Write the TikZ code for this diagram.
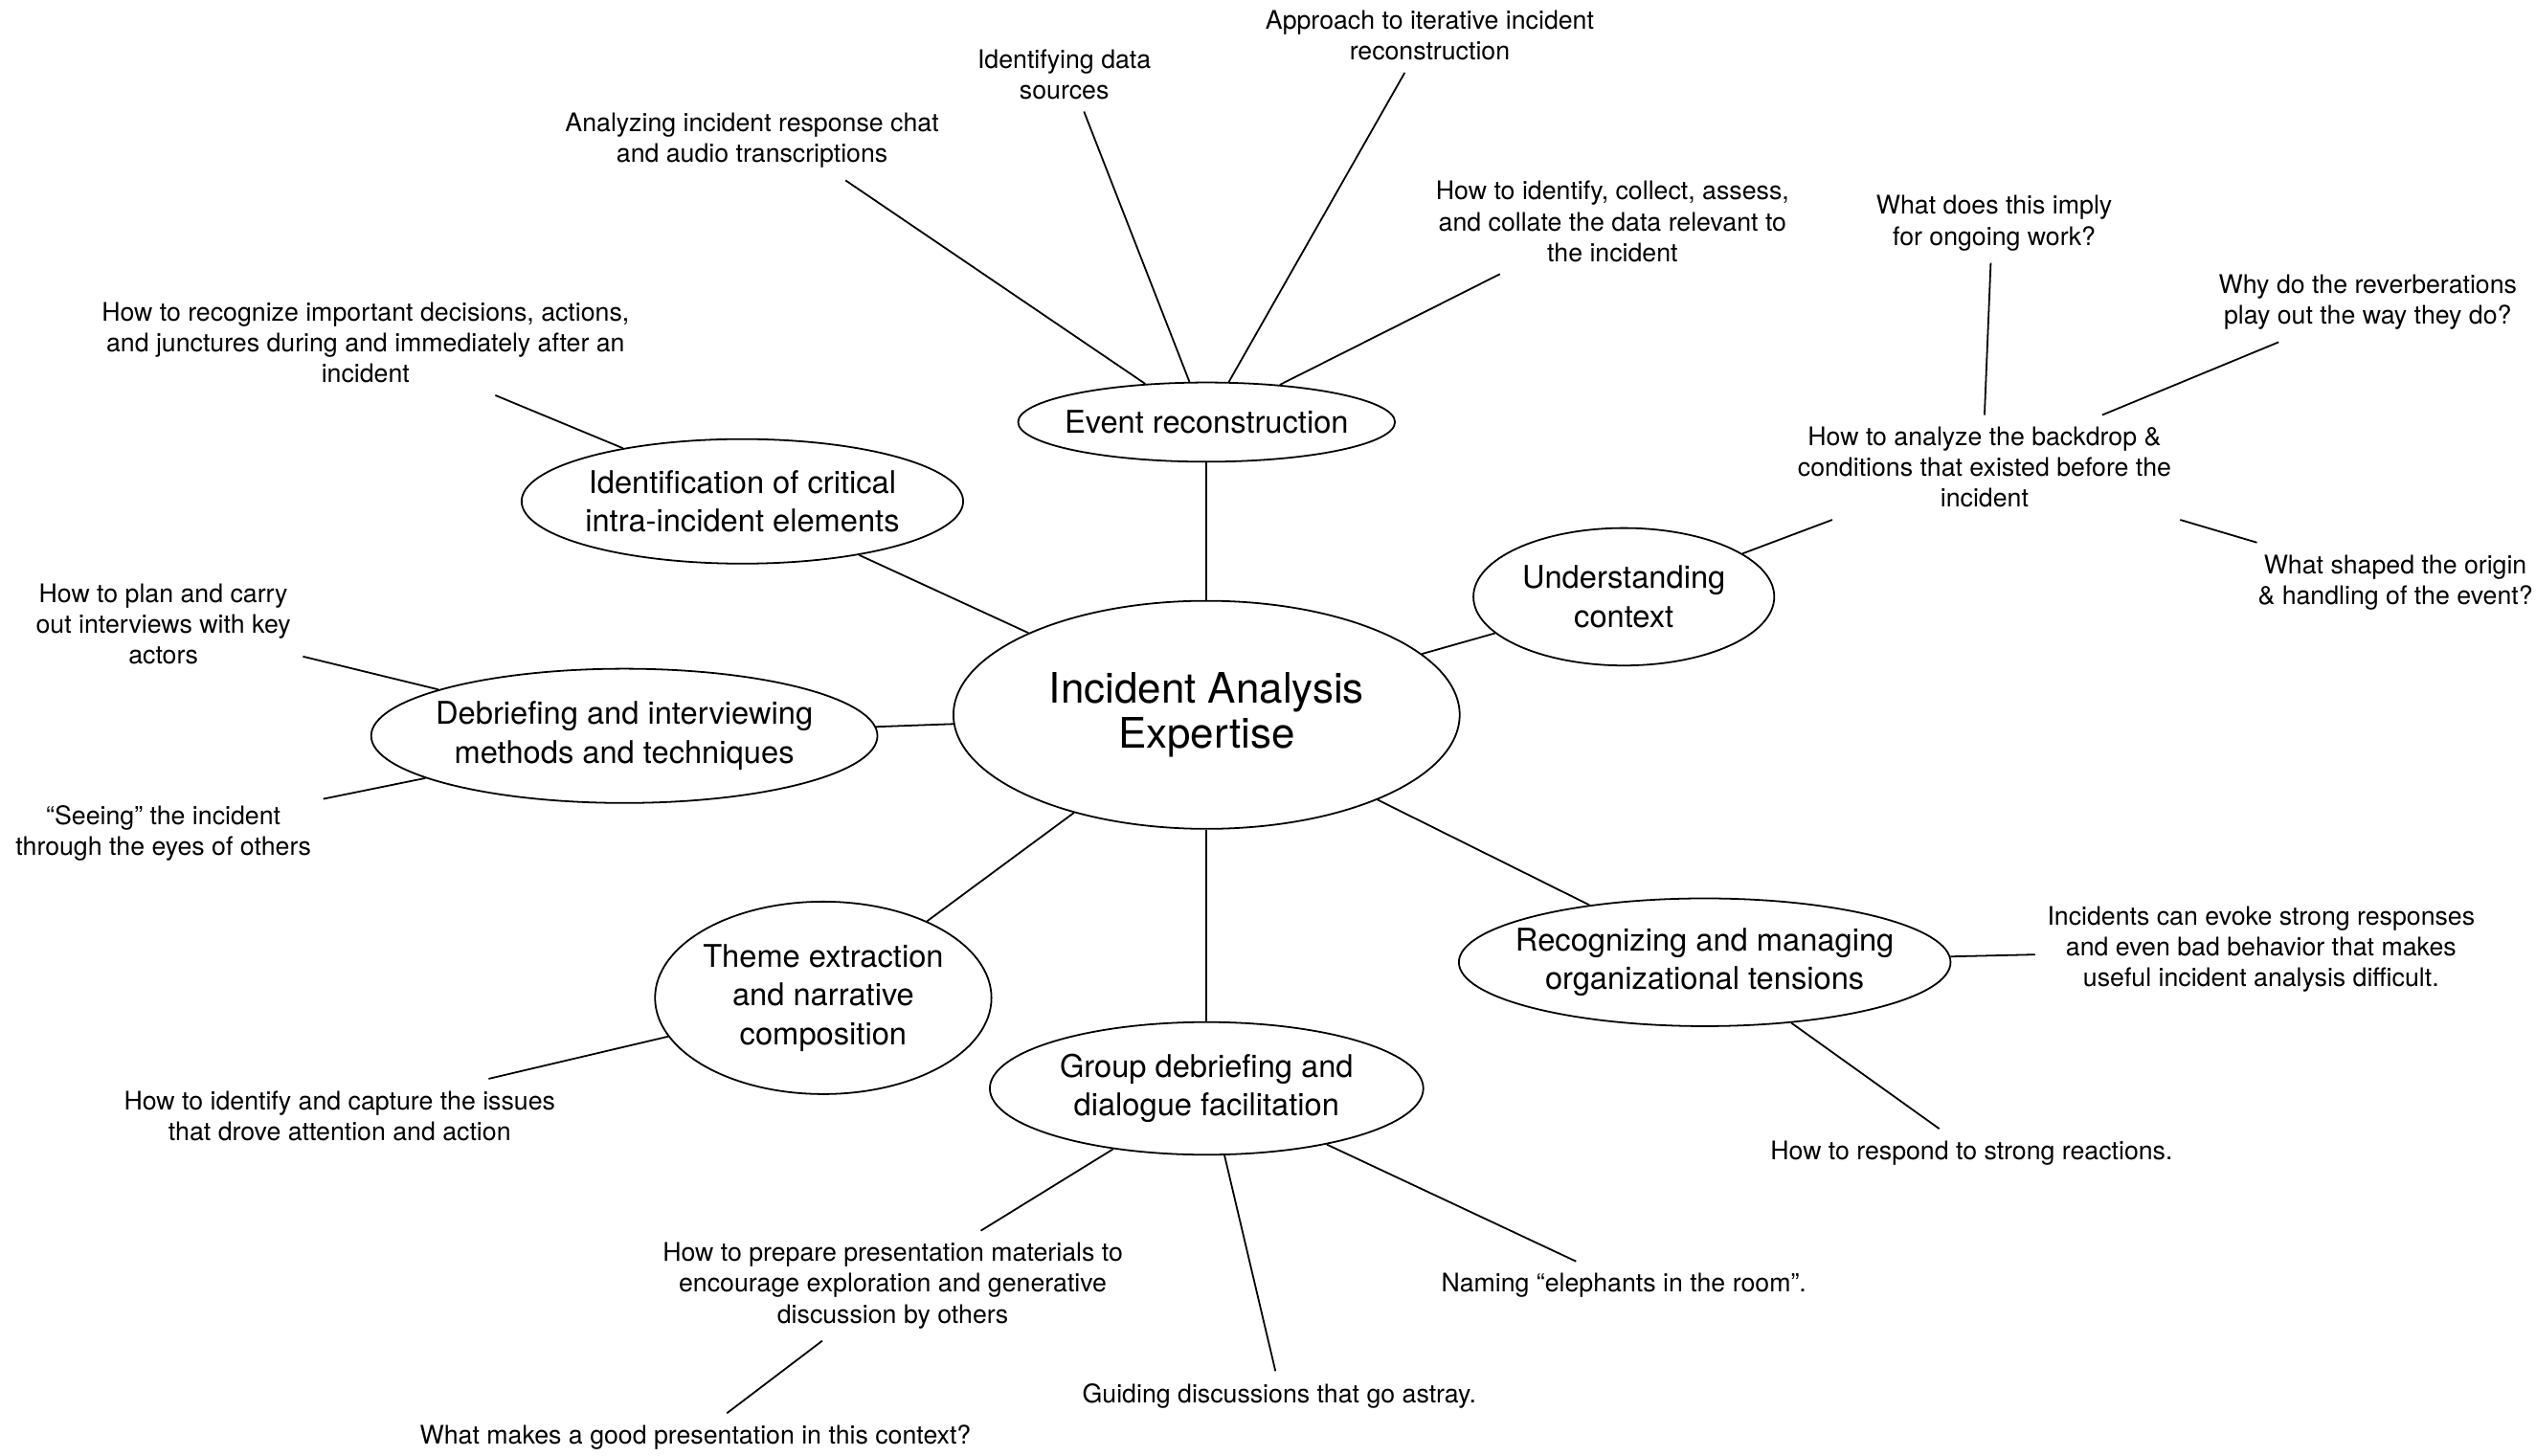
\documentclass[tikz,border=0pt]{standalone}
\usepackage{fontspec}
\setmainfont{TeX Gyre Heros}
\usetikzlibrary{shapes.geometric,positioning}

\tikzset{
  topic/.style={draw, ellipse, align=center, inner xsep=-0.25cm, inner ysep=0pt, font=\fontsize{11}{13.7}\selectfont},
  core/.style={topic, font=\fontsize{14.8}{16}\selectfont},
  leaf/.style={align=center, inner sep=4pt, font=\fontsize{9}{10.8}\selectfont},
}

\begin{document}
\begin{tikzpicture}[on grid, line width=0.6pt]
          \useasboundingbox (0,0) rectangle (31.36,-18);
          \node   (c)   [core, minimum width=6.26cm, minimum height=2.82cm] at (14.92,-8.84) {Incident Analysis\\Expertise};

          \node   (recon)   [topic, minimum width=4.66cm, minimum height=0.98cm, above=3.62cm of c] {Event reconstruction};
          \node   (ident)   [topic, minimum width=5.46cm, minimum height=1.54cm, above left=2.64cm and 5.74cm of c] {Identification of critical\\intra-incident elements};
          \node   (context) [topic, minimum width=3.72cm, minimum height=1.70cm, above right=1.46cm and 5.16cm of c] {Understanding\\context};
          \node   (debrief) [topic, minimum width=6.26cm, minimum height=1.66cm, below left=0.26cm and 7.20cm of c] {Debriefing and interviewing\\methods and techniques};
          \node   (theme)   [topic, minimum width=4.16cm, minimum height=2.38cm, below left=3.50cm and 4.74cm of c] {Theme extraction\\and narrative\\composition};
          \node   (group)   [topic, minimum width=5.36cm, minimum height=1.64cm, below=4.62cm of c] {Group debriefing and\\dialogue facilitation};
          \node   (tension) [topic, minimum width=6.08cm, minimum height=1.58cm, below right=3.06cm and 6.16cm of c] {Recognizing and managing\\organizational tensions};

          \node   (chat)     [leaf, above left=3.48cm and 5.62cm of recon] {Analyzing incident response chat\\and audio transcriptions};
          \node   (sources)  [leaf, above left=4.30cm and 1.76cm of recon] {Identifying data\\sources};
          \node   (iterate)  [leaf, above right=4.78cm and 2.76cm of recon] {Approach to iterative incident\\reconstruction};
          \node   (collect)  [leaf, above right=2.48cm and 5.02cm of recon] {How to identify, collect, assess,\\and collate the data relevant to\\the incident};
          \node   (juncture) [leaf, above left=1.96cm and 4.66cm of ident] {How to recognize important decisions, actions,\\and junctures during and immediately after an\\incident};
          \node   (backdrop) [leaf, above right=1.60cm and 4.46cm of context] {How to analyze the backdrop \&\\conditions that existed before the\\incident};
          \node   (imply)    [leaf, above right=3.02cm and 0.12cm of backdrop] {What does this imply\\for ongoing work?};
          \node   (reverb)   [leaf, above right=2.04cm and 4.74cm of backdrop] {Why do the reverberations\\play out the way they do?};
          \node   (origin)   [leaf, below right=1.42cm and 5.08cm of backdrop] {What shaped the origin\\\& handling of the event?};
          \node   (plan)     [leaf, above left=1.38cm and 5.70cm of debrief] {How to plan and carry\\out interviews with key\\actors};
          \node   (seeing)   [leaf, below left=1.20cm and 5.70cm of debrief] {“Seeing” the incident\\through the eyes of others};
          \node   (issues)   [leaf, below left=1.46cm and 5.98cm of theme] {How to identify and capture the issues\\that drove attention and action};
          \node   (evoke)    [leaf, above right=0.16cm and 6.88cm of tension] {Incidents can evoke strong responses\\and even bad behavior that makes\\useful incident analysis difficult.};
          \node   (respond)  [leaf, below right=2.36cm and 3.30cm of tension] {How to respond to strong reactions.};
          \node   (prepare)  [leaf, below left=2.44cm and 3.88cm of group] {How to prepare presentation materials to\\encourage exploration and generative\\discussion by others};
          \node   (astray)   [leaf, below right=3.80cm and 0.90cm of group] {Guiding discussions that go astray.};
          \node   (elephants) [leaf, below right=2.44cm and 5.16cm of group] {Naming “elephants in the room”.};
          \node   (goodpres) [leaf, below left=1.88cm and 2.44cm of prepare] {What makes a good presentation in this context?};

          \path (c) edge (recon)
                    edge (ident)
                    edge (context)
                    edge (debrief)
                    edge (theme)
                    edge (group)
                    edge (tension);
          \path (recon.148) edge (chat.-23);
          \path (recon.113) edge (sources.-62);
          \path (recon.61) edge (iterate.-124);
          \path (recon.27) edge (collect.-155);
          \path (ident.156) edge (juncture.-22);
          \path (context.20) edge (backdrop.-161);
          \path (backdrop.north) edge (imply.-95);
          \path (backdrop.24) edge (reverb.-156);
          \path (backdrop.-15) edge (origin.164);
          \path (debrief.166) edge (plan.-13);
          \path (debrief.192) edge (seeing.12);
          \path (theme.194) edge (issues.14);
          \path (tension) edge (evoke);
          \path (tension.-35) edge (respond.143);
          \path (group.213) edge (prepare.32);
          \path (group.-75) edge (astray.99);
          \path (group.-25) edge (elephants.153);
          \path (prepare.-142) edge (goodpres.38);
        \end{tikzpicture}
\end{document}
